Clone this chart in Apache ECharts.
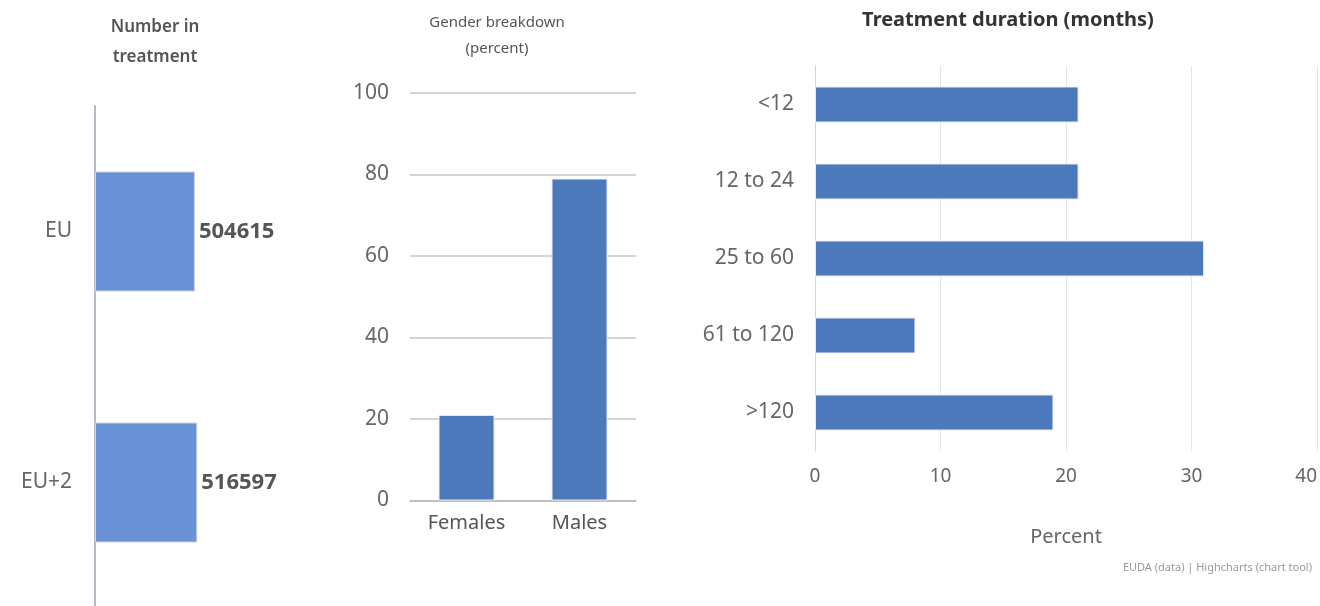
<!DOCTYPE html>
<html>
<head>
<meta charset="utf-8">
<script src="https://cdn.jsdelivr.net/npm/echarts@6/dist/echarts.min.js"></script>
<style>
  html, body { margin: 0; padding: 0; background: #fff; }
  #main { width: 1320px; height: 606px; }
</style>
</head>
<body>
<div id="main"></div>
<script>
// number in treatment
const regionCats = ['EU', 'EU+2'];
const regionValues = [504615, 516597];

// gender breakdown (percent)
const genderCats = ['Females', 'Males'];
const genderValues = [21, 79];

// treatment duration (months), percent
const durationCats = ['<12', '12 to 24', '25 to 60', '61 to 120', '>120'];
const durationValues = [21, 21, 31, 8, 19];

const FONT = '"Noto Sans", "Open Sans", sans-serif';
const chart = echarts.init(document.getElementById('main'));

chart.setOption({
  animation: false,
  textStyle: { fontFamily: FONT },
  title: [
    {
      text: 'Number in\ntreatment', left: 150, top: 7, textAlign: 'center',
      textStyle: { fontSize: 17, fontWeight: 600, color: '#555', lineHeight: 30, fontFamily: FONT }
    },
    {
      text: 'Gender breakdown\n(percent)', left: 492, top: 5, textAlign: 'center',
      textStyle: { fontSize: 15, fontWeight: 'normal', color: '#555', lineHeight: 26, fontFamily: FONT }
    },
    {
      text: 'Treatment duration (months)', left: 1003, top: 5, textAlign: 'center',
      textStyle: { fontSize: 20, fontWeight: 'bold', color: '#333', fontFamily: FONT }
    },
    {
      text: 'EUDA (data) | Highcharts (chart tool)', right: 3, top: 557,
      textStyle: { fontSize: 11, fontWeight: 'normal', color: '#999', fontFamily: FONT }
    }
  ],
  grid: [
    { left: 95, top: 106, width: 198, height: 502, outerBoundsMode: 'none' },
    { left: 410, top: 93, width: 226, height: 407.5, outerBoundsMode: 'none' },
    { left: 815, top: 66, width: 502, height: 385, outerBoundsMode: 'none' }
  ],
  xAxis: [
    {
      gridIndex: 0, type: 'value', min: 0, max: 1000000, show: false
    },
    {
      gridIndex: 1, type: 'category', data: genderCats,
      axisLine: { lineStyle: { color: '#b8b8b8', width: 1.5 } },
      axisTick: { show: false },
      axisLabel: { fontSize: 20, color: '#555', margin: 13 }
    },
    {
      gridIndex: 2, type: 'value', min: 0, max: 40, interval: 10,
      axisLine: { show: false },
      axisTick: { show: false },
      splitLine: { lineStyle: { color: '#e6e6e6' } },
      axisLabel: { fontSize: 19, color: '#666', margin: 16, alignMaxLabel: 'right' },
      name: 'Percent', nameLocation: 'middle', nameGap: 76,
      nameTextStyle: { fontSize: 20, color: '#666' }
    }
  ],
  yAxis: [
    {
      gridIndex: 0, type: 'category', data: regionCats, inverse: true,
      axisLine: { lineStyle: { color: '#b4b9c8', width: 2 } },
      axisTick: { show: false },
      axisLabel: { fontSize: 21, color: '#666', margin: 23 }
    },
    {
      gridIndex: 1, type: 'value', min: 0, max: 100, interval: 20,
      axisLine: { show: false },
      axisTick: { show: false },
      splitLine: { lineStyle: { color: '#c6c6c6', width: 1.5 } },
      axisLabel: { fontSize: 21, color: '#666', margin: 21 }
    },
    {
      gridIndex: 2, type: 'category', data: durationCats, inverse: true,
      axisLine: { lineStyle: { color: '#ccd6eb' } },
      axisTick: { show: false },
      axisLabel: { fontSize: 21, color: '#666', margin: 21 }
    }
  ],
  series: [
    {
      type: 'bar', xAxisIndex: 0, yAxisIndex: 0, data: regionValues,
      barWidth: 120,
      itemStyle: { color: '#6892d5', borderColor: '#d0d4dc', borderWidth: 1 },
      label: {
        show: true, position: 'right', distance: 4,
        fontSize: 22, fontWeight: 'bold', color: '#555',
        textBorderColor: '#fff', textBorderWidth: 2
      }
    },
    {
      type: 'bar', xAxisIndex: 1, yAxisIndex: 1, data: genderValues,
      barWidth: 56,
      itemStyle: { color: '#4b79bc', borderColor: '#e8ecf2', borderWidth: 1 }
    },
    {
      type: 'bar', xAxisIndex: 2, yAxisIndex: 2, data: durationValues,
      barWidth: 36,
      itemStyle: { color: '#4b79bc', borderColor: '#e8ecf2', borderWidth: 1 }
    }
  ]
});
</script>
</body>
</html>
